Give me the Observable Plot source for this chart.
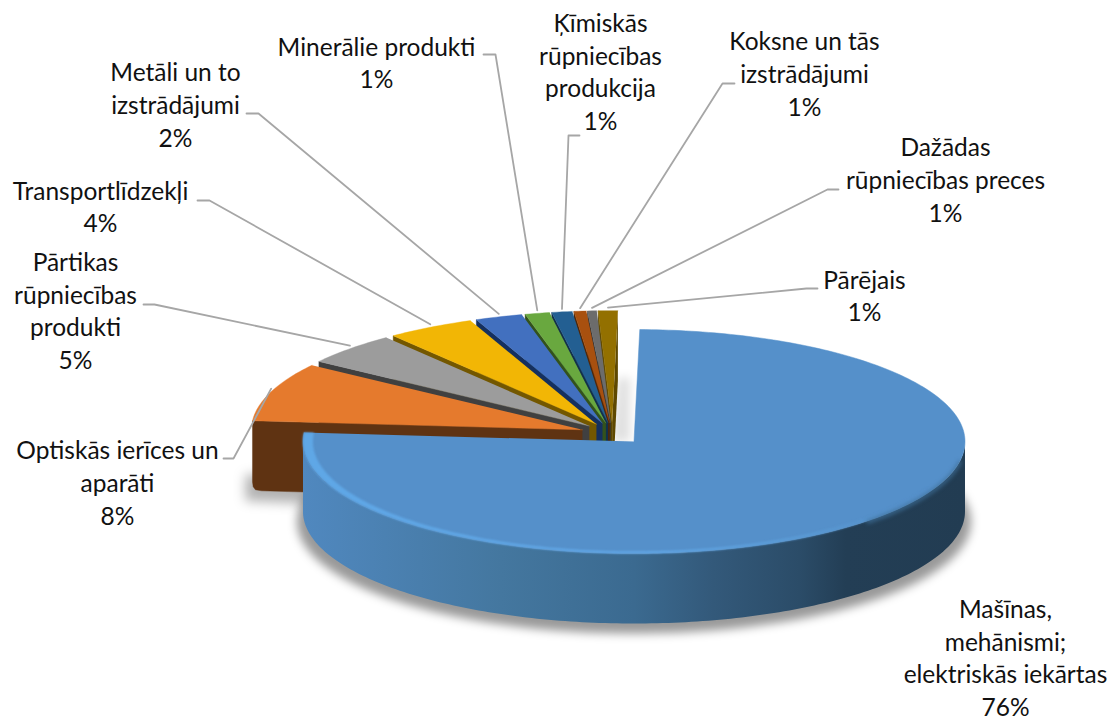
<!DOCTYPE html>
<html><head><meta charset="utf-8">
<script src="https://cdn.jsdelivr.net/npm/d3@7"></script>
<script src="https://cdn.jsdelivr.net/npm/@observablehq/plot@0.6"></script>
<style>html,body{margin:0;padding:0;background:#fff}svg{display:block}</style>
</head><body><div id="chart"></div>
<script>
// --- data ---
const categories = ["Mašīnas,\nmehānismi;\nelektriskās iekārtas","Optiskās ierīces un\naparāti","Pārtikas\nrūpniecības\nprodukti","Transportlīdzekļi","Metāli un to\nizstrādājumi","Minerālie produkti","Ķīmiskās\nrūpniecības\nprodukcija","Koksne un tās\nizstrādājumi","Dažādas\nrūpniecības preces","Pārējais"];
const percentLabels = [76,8,5,4,2,1,1,1,1,1];
const shares = [76,8.5,4.7,4.3,2.3,1.2,1,0.6,0.45,0.95];
// --- styling and placement ---
const topColors = ["#5590ca","#e57a2d","#9c9c9c","#f2b605","#4270bf","#69a83f","#235f92","#a8500f","#6c6c6c","#937000"];
const wallColors = ["#2c4c68","#5f3312","#404040","#735700","#15305f","#33521c","#12304a","#4f2607","#333333","#5e4800"];
const labelX = [1005,117,75,100,175,376,600,804,945,864];
const labelY = [656,481,309,205,103,61,70,72,178,294];
const elbowA = [null,[223,458],[143,304],[197,200],[246,113],[483,54],[579,135],[734,83],[838,189],[817,288]];
const elbowB = [null,[233,458],[154,304],[209,200],[258,113],[495,54],[568,135],[722,83],[827,189],[806,288]];
const font = "Lato, Carlito, sans-serif";
const W = 1111, H = 719;
const pie = {cx:612, cy:433, rx:331, ry:112, depth:70, explode:32, rotate:1};

// --- pie geometry computed from the shares ---
const rad = d => d * Math.PI / 180;
let acc = pie.rotate;
const slices = shares.map((s, i) => {
  const a0 = acc, a1 = acc + s * 3.6; acc = a1;
  const mid = (a0 + a1) / 2;
  const ax = pie.cx + pie.explode * Math.sin(rad(mid));
  const ay = pie.cy - pie.explode * (pie.ry / pie.rx) * Math.cos(rad(mid));
  const rim = (a, dy = 0, fx = 1, fy = 1) => ({x: ax + fx * pie.rx * Math.sin(rad(a)), y: ay - fy * pie.ry * Math.cos(rad(a)) + dy});
  return {i, a0, a1, mid, ax, ay, rim};
});
const arc = (s, a, b, dy = 0, fx = 1, fy = 1) => {
  const n = Math.max(2, Math.ceil(Math.abs(b - a)));
  return d3.range(n + 1).map(k => s.rim(a + (b - a) * k / n, dy, fx, fy));
};
const tag = (pts, id, fill) => pts.map(p => ({...p, id, fill}));
const topPoly = s => tag([{x:s.ax,y:s.ay}, ...arc(s, s.a0, s.a1)], "t" + s.i, topColors[s.i]);
const wallPoly = s => {
  const r = s.rim(s.a0), b = s.rim(s.a0, pie.depth);
  const corner = s.i === 1
    ? [{x:b.x, y:b.y - 9}, {x:b.x + 0.7, y:b.y - 4}, {x:b.x + 3, y:b.y - 1}, {x:b.x + 9, y:b.y}]
    : [b];
  return tag([{x:s.ax,y:s.ay}, r, ...corner, {x:s.ax,y:s.ay + pie.depth}], "w" + s.i, wallColors[s.i]);
};
const main = slices[0];
const rest = slices.slice(1).reverse();
const backRows = rest.flatMap(s => [...wallPoly(s), ...topPoly(s)]);
const gold = slices[9];
const goldEnd = tag([{x:gold.ax,y:gold.ay}, gold.rim(gold.a1), gold.rim(gold.a1,pie.depth), {x:gold.ax,y:gold.ay+pie.depth}], "e", wallColors[9]);

const mainSide = [...arc(main, 90, 270), ...arc(main, 270, 90, pie.depth)];
const mainShadow = arc(main, 0, 360, pie.depth + 10, 1.018, 1.0).filter(p => p.y > main.ay + pie.depth - 30);
const oRim = slices[1].rim(slices[1].a0, pie.depth);
const orangeShadow = [{x:oRim.x - 7, y:oRim.y - 16}, {x:oRim.x - 7, y:oRim.y + 10}, {x:main.rim(270).x + 30, y:oRim.y + 14}, {x:main.rim(270).x + 30, y:oRim.y - 16}];
const gapShadow = [{x:gold.rim(gold.a1).x, y:gold.ay - 45}, {x:main.ax - 4, y:gold.ay - 45}, {x:main.ax - 4, y:main.ay}, {x:gold.ax, y:main.ay}];
const bevel = [...arc(main, main.a1, 115), ...arc(main, 115, main.a1, 0, 0.97, 0.98)];
const darkRim = arc(main, 100, 135, 1);

const labels = categories.map((c, i) => ({x: labelX[i], y: labelY[i], text: `${c}\n${percentLabels[i]}%`}));
const leaders = slices.slice(1).flatMap(s => {
  const end = s.rim(s.mid, -3);
  return [elbowA[s.i], elbowB[s.i], [end.x, end.y]].map(p => ({x:p[0], y:p[1], id:s.i}));
});

const defs = () => {
  const g = d3.create("svg:g");
  const d = g.append("defs");
  const grad = (id, stops) => {
    const l = d.append("linearGradient").attr("id", id).attr("x1", 0).attr("x2", 1).attr("y1", 0).attr("y2", 0);
    stops.forEach(([o, c, a]) => l.append("stop").attr("offset", o).attr("stop-color", c).attr("stop-opacity", a ?? 1));
  };
  grad("sideGrad", [[0,"#5088bf"],[0.3,"#44779f"],[0.5,"#3b6a90"],[0.62,"#33597a"],[0.75,"#2b4c68"],[0.82,"#233e55"],[1,"#223c52"]]);
  grad("bevelGrad", [[0,"#5fa7e6"],[0.55,"#63a9e8"],[0.8,"#5a9ad4"],[1,"#5590ca",0]]);
  return g.node();
};

const poly = (rows, opts) => Plot.line(rows, {x:"x", y:"y", stroke:"none", ...opts});

const chart = Plot.plot({
  width: W, height: H, margin: 0,
  style: {background: "#fff"},
  x: {domain:[0,W], range:[0,W], axis:null},
  y: {domain:[0,H], range:[0,H], axis:null},
  color: {type:"identity"},
  marks: [
    defs,
    poly(orangeShadow, {fill:"#000", fillOpacity:0.3, imageFilter:"blur(6px)"}),
    poly(mainShadow, {fill:"#000", fillOpacity:0.4, imageFilter:"blur(5px)"}),
    poly(gapShadow, {fill:"#000", fillOpacity:0.12, imageFilter:"blur(5px)"}),
    poly(goldEnd, {fill:wallColors[9]}),
    poly(backRows, {z:"id", fill:"fill", stroke:"fill", strokeWidth:0.4}),
    Plot.line(leaders, {x:"x", y:"y", z:"id", stroke:"#a6a6a6", strokeWidth:1.8}),
    poly(mainSide, {fill:"url(#sideGrad)"}),
    poly(topPoly(main), {fill:topColors[0], stroke:topColors[0], strokeWidth:0.5}),
    poly(bevel, {fill:"url(#bevelGrad)", imageFilter:"blur(1px)"}),
    Plot.line(darkRim, {x:"x", y:"y", stroke:"#3f7099", strokeWidth:3, imageFilter:"blur(2px)"}),
    Plot.text(labels, {x:"x", y:"y", text:"text", fontFamily:font, fontSize:24.5, lineHeight:1.33, textAnchor:"middle", fill:"#111"})
  ]
});
document.getElementById("chart").appendChild(chart);
</script></body></html>
